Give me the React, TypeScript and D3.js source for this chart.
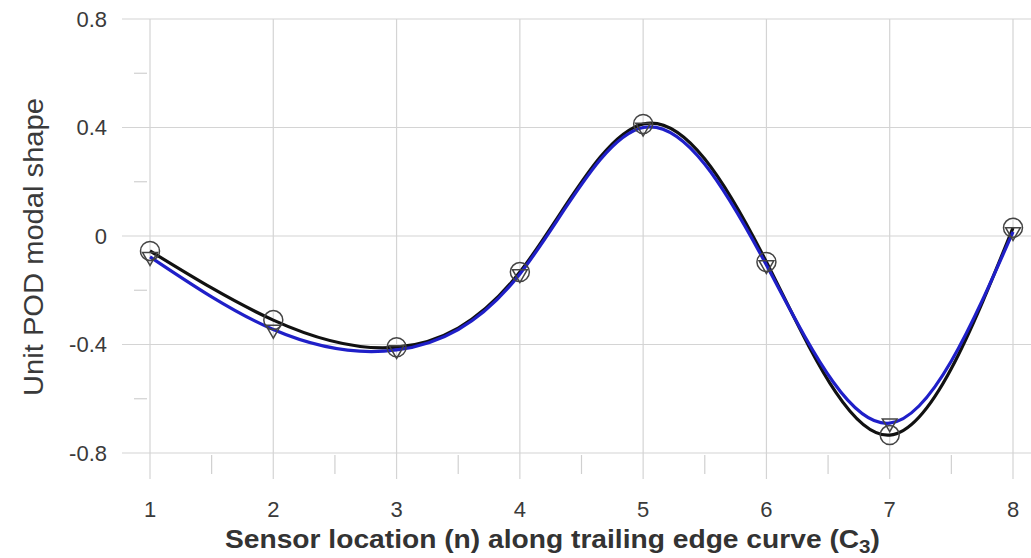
import React from "react";
import * as d3 from "d3";

const sensors = [1, 2, 3, 4, 5, 6, 7, 8];
const seriesBlack = [-0.055, -0.31, -0.41, -0.133, 0.413, -0.096, -0.734, 0.03];
const seriesBlue = [-0.077, -0.345, -0.42, -0.14, 0.4, -0.107, -0.69, 0.015];
const yTicks = [-0.8, -0.4, 0, 0.4, 0.8];
const yTickLabels = ["-0.8", "-0.4", "0", "0.4", "0.8"];
const yMinorTicks = [-0.6, -0.2, 0.2, 0.6];
const xMinorTicks = [1.5, 2.5, 3.5, 4.5, 5.5, 6.5, 7.5];

export default function App() {
  const W = 1031, H = 558;
  const x = d3.scaleLinear().domain([1, 8]).range([150, 1013]);
  const y = d3.scaleLinear().domain([-0.8, 0.8]).range([453, 19]);
  const line = d3
    .line<number>()
    .x((_, i) => x(sensors[i]))
    .y((d) => y(d))
    .curve(d3.curveNatural);
  const tri = d3.symbol().type(d3.symbolTriangle).size(95)();
  const font = "'Liberation Sans', Arial, sans-serif";
  return (
    <svg width={W} height={H} style={{ position: "absolute", left: 0, top: 0, background: "#fff" }}>
      {yTicks.map((t) => (
        <line key={"hy" + t} x1={122} x2={W} y1={y(t)} y2={y(t)} stroke="#d4d4d4" strokeWidth={1.2} />
      ))}
      {sensors.map((s) => (
        <line key={"vx" + s} x1={x(s)} x2={x(s)} y1={y(0.8)} y2={479} stroke="#d4d4d4" strokeWidth={1.2} />
      ))}
      {yMinorTicks.map((t) => (
        <line key={"my" + t} x1={134} x2={147} y1={y(t)} y2={y(t)} stroke="#d0d0d0" strokeWidth={1.2} />
      ))}
      {xMinorTicks.map((t) => (
        <line key={"mx" + t} x1={x(t)} x2={x(t)} y1={455} y2={474} stroke="#d0d0d0" strokeWidth={1.2} />
      ))}
      {yTicks.map((t, i) => (
        <text key={"ly" + t} x={107} y={y(t)} dy="0.36em" textAnchor="end" fontFamily={font} fontSize={22} fill="#3a3a3a">
          {yTickLabels[i]}
        </text>
      ))}
      {sensors.map((s) => (
        <text key={"lx" + s} x={x(s)} y={517} textAnchor="middle" fontFamily={font} fontSize={22} fill="#3a3a3a">
          {s}
        </text>
      ))}
      <text
        transform={`translate(43,${247}) rotate(-90)`}
        textAnchor="middle"
        fontFamily={font}
        fontSize={27}
        fill="#3a3a3a"
        textLength={298}
        lengthAdjust="spacingAndGlyphs"
      >
        Unit POD modal shape
      </text>
      <text
        x={225}
        y={548}
        fontFamily={font}
        fontSize={26}
        fontWeight="bold"
        fill="#333"
        textLength={655}
        lengthAdjust="spacingAndGlyphs"
      >
        Sensor location (n) along trailing edge curve (C
        <tspan fontSize={19} dy={5}>3</tspan>
        <tspan dy={-5}>)</tspan>
      </text>
      <path d={line(seriesBlack) || ""} fill="none" stroke="#111" strokeWidth={3.2} />
      <path d={line(seriesBlue) || ""} fill="none" stroke="#1f1fc8" strokeWidth={3.2} />
      {seriesBlack.map((v, i) => (
        <circle key={"c" + i} cx={x(sensors[i])} cy={y(v)} r={9.5} fill="none" stroke="#444" strokeWidth={1.5} />
      ))}
      {seriesBlue.map((v, i) => (
        <path
          key={"t" + i}
          d={tri || ""}
          transform={`translate(${x(sensors[i])},${y(v)}) rotate(180)`}
          fill="none"
          stroke="#444"
          strokeWidth={1.5}
        />
      ))}
    </svg>
  );
}
